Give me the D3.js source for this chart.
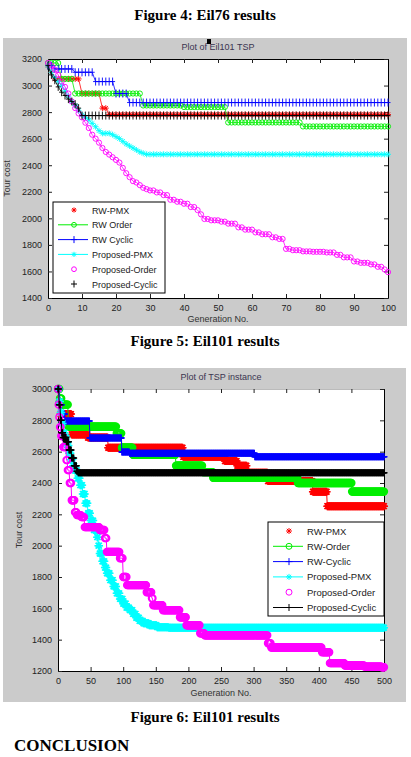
<!DOCTYPE html>
<html>
<head>
<meta charset="utf-8">
<script src="https://cdn.jsdelivr.net/npm/d3@7"></script>
<style>
body{margin:0;background:#fff;}
svg text{font-family:"Liberation Sans",Arial,sans-serif;}
.cap{font-family:"Liberation Serif","Times New Roman",serif;font-weight:bold;}
</style>
</head>
<body>
<svg id="page" width="411" height="757"></svg>
<script>
// best tour cost per generation, run-length coded: [generation, cost]
// the cost stays at that value until the next entry

// ---- Figure 4 chart (100 generations) ----
const names1 = ['RW-PMX', 'RW Order', 'RW Cyclic', 'Proposed-PMX', 'Proposed-Order', 'Proposed-Cyclic'];
const rwPmx1 = [[0,3150],[1,3100],[2,3050],[10,2940],[16,2830],[18,2782]];
const rwOrder1 = [[0,3170],[4,3050],[8,2940],[28,2850],[40,2838],[53,2722],[75,2692]];
const rwCyclic1 = [[0,3150],[2,3125],[8,3100],[14,3030],[20,2940],[24,2872]];
const propPmx1 = [[0,3150],[1,3100],[2,3060],[3,3030],[4,3000],[5,2960],[6,2920],[7,2880],[8,2850],[9,2810],
    [10,2780],[11,2760],[12,2740],[13,2715],[14,2690],[15,2660],[16,2640],[19,2630],[20,2615],[21,2600],
    [22,2580],[23,2560],[24,2545],[25,2530],[26,2515],[27,2500],[28,2490],[29,2482]];
const propOrder1 = [[0,3170],[1,3150],[2,3120],[3,3080],[4,3030],[5,2990],[6,2940],[7,2880],[8,2830],[9,2790],
    [10,2760],[11,2720],[12,2680],[13,2630],[14,2600],[15,2570],[16,2530],[17,2500],[18,2480],[19,2460],
    [20,2440],[21,2420],[22,2380],[23,2340],[24,2310],[25,2280],[26,2270],[27,2250],[28,2230],[29,2220],
    [30,2210],[32,2195],[34,2175],[36,2140],[38,2125],[40,2110],[42,2085],[44,2062],[45,2030],[46,1995],
    [48,1985],[51,1975],[53,1960],[56,1932],[58,1915],[61,1894],[63,1880],[66,1857],[68,1845],[70,1770],
    [72,1760],[75,1751],[78,1748],[82,1743],[85,1725],[87,1706],[90,1675],[92,1665],[95,1653],[97,1635],
    [99,1615],[100,1595]];
const propCyclic1 = [[0,3150],[1,3080],[2,3040],[3,2990],[4,2950],[5,2925],[6,2898],[7,2880],[8,2860],[9,2830],[10,2774]];
const xTicks1 = [0,10,20,30,40,50,60,70,80,90,100];
const yTicks1 = [1400,1600,1800,2000,2200,2400,2600,2800,3000,3200];

// ---- Figure 5 chart (500 generations) ----
const names2 = ['RW-PMX', 'RW-Order', 'RW-Cyclic', 'Proposed-PMX', 'Proposed-Order', 'Proposed-Cyclic'];
const rwPmx2 = [[0,3000],[2,2920],[4,2840],[21,2710],[46,2690],[77,2625],[192,2567],[256,2540],[275,2510],
    [290,2465],[322,2412],[391,2344],[413,2252]];
const rwOrder2 = [[0,3000],[3,2940],[6,2900],[16,2760],[90,2717],[98,2625],[115,2580],[181,2510],[222,2470],
    [238,2433],[368,2400],[451,2345]];
const rwCyclic2 = [[0,3000],[3,2900],[6,2840],[11,2795],[49,2688],[98,2598],[110,2590],[302,2567]];
const propPmx2 = [[0,3000],[2,2920],[4,2850],[6,2780],[8,2720],[11,2690],[14,2640],[17,2590],[20,2550],
    [23,2510],[26,2480],[30,2430],[34,2386],[38,2330],[42,2270],[46,2207],[50,2160],[55,2100],[60,2054],
    [62,2000],[64,1950],[68,1900],[72,1860],[75,1824],[80,1780],[85,1740],[90,1696],[95,1660],[100,1630],
    [105,1605],[110,1588],[115,1565],[120,1540],[125,1520],[131,1505],[140,1492],[152,1480],[170,1476]];
const propOrder2 = [[0,3000],[1,2900],[2,2820],[3,2757],[5,2700],[8,2629],[13,2546],[15,2482],[18,2400],
    [21,2290],[26,2214],[29,2195],[36,2182],[41,2118],[64,2100],[72,2048],[75,1960],[95,1920],[100,1800],
    [106,1748],[136,1703],[144,1664],[146,1620],[161,1588],[187,1543],[197,1492],[218,1441],[225,1428],
    [322,1377],[327,1350],[405,1320],[417,1250],[440,1235],[470,1228],[497,1224]];
const propCyclic2 = [[0,3000],[2,2900],[4,2800],[6,2720],[8,2690],[13,2663],[17,2610],[21,2560],[25,2510],
    [29,2475],[31,2465]];
const xTicks2 = [0,50,100,150,200,250,300,350,400,450,500];
const yTicks2 = [1200,1400,1600,1800,2000,2200,2400,2600,2800,3000];

const colors = ['#ff0000', '#00ee00', '#0000ff', '#00ffff', '#ff00ff', '#000000'];
const markers = ['star', 'circle', 'plus', 'star', 'circle', 'plus'];

let page = d3.select('#page');

// captions
page.append('text').attr('class', 'cap').attr('x', 205).attr('y', 20)
    .attr('text-anchor', 'middle').attr('font-size', 15).text('Figure 4: Eil76 results');
page.append('text').attr('class', 'cap').attr('x', 205).attr('y', 346)
    .attr('text-anchor', 'middle').attr('font-size', 15).text('Figure 5: Eil101 results');
page.append('text').attr('class', 'cap').attr('x', 205).attr('y', 722)
    .attr('text-anchor', 'middle').attr('font-size', 15).text('Figure 6: Eil101 results');
page.append('text').attr('class', 'cap').attr('x', 14).attr('y', 751)
    .attr('font-size', 17).text('CONCLUSION');

// turn the run list into one value per generation
function expandRuns(runs, maxGen){
    let out = [];
    let k = 0;
    for (let g = 0; g <= maxGen; g++){
        while (k + 1 < runs.length && runs[k + 1][0] <= g) k++;
        out.push({g: g, v: runs[k][1]});
    }
    return out;
}

function markerPath(type, s){
    if (type == 'plus') return `M${-s.h},0H${s.h}M0,${-s.v}V${s.v}`;
    if (type == 'star'){
        let d = s.r * 0.72;
        return `M${-s.r},0H${s.r}M0,${-s.r}V${s.r}M${-d},${-d}L${d},${d}M${-d},${d}L${d},${-d}`;
    }
    return `M${s.c},0A${s.c},${s.c} 0 1 1 ${-s.c},0A${s.c},${s.c} 0 1 1 ${s.c},0`;
}

function drawChart(o){
    let g = page.append('g');

    // grey figure panel
    g.append('rect').attr('x', o.panel[0]).attr('y', o.panel[1])
        .attr('width', o.panel[2]).attr('height', o.panel[3]).attr('fill', '#cbcbcb');

    let xScale = d3.scaleLinear().domain([0, o.maxGen]).range([o.left, o.right]);
    let yScale = d3.scaleLinear().domain(o.yDomain).range([o.bottom, o.top]);

    g.append('rect').attr('x', o.left).attr('y', o.top)
        .attr('width', o.right - o.left).attr('height', o.bottom - o.top).attr('fill', '#fff');

    // axes, ticks pointing inwards like matlab
    let fmt = d3.format('d');
    let axB = g.append('g').attr('transform', `translate(0,${o.bottom})`)
        .call(d3.axisBottom(xScale).tickValues(o.xTicks).tickSize(-4).tickSizeOuter(0).tickPadding(7).tickFormat(fmt));
    let axL = g.append('g').attr('transform', `translate(${o.left},0)`)
        .call(d3.axisLeft(yScale).tickValues(o.yTicks).tickSize(-4).tickSizeOuter(0).tickPadding(6).tickFormat(fmt));
    let axT = g.append('g').attr('transform', `translate(0,${o.top})`)
        .call(d3.axisTop(xScale).tickValues(o.xTicks).tickSize(-4).tickSizeOuter(0).tickFormat(''));
    let axR = g.append('g').attr('transform', `translate(${o.right},0)`)
        .call(d3.axisRight(yScale).tickValues(o.yTicks).tickSize(-4).tickSizeOuter(0).tickFormat(''));
    [axB, axL, axT, axR].forEach(function(ax){
        ax.selectAll('text').attr('font-size', 9).attr('fill', '#222')
            .style('font-family', '"Liberation Sans",Arial,sans-serif');
        ax.selectAll('line').attr('stroke', '#222');
        ax.select('.domain').attr('stroke', '#000');
    });
    if (!o.topLine) axT.select('.domain').attr('stroke', '#bbb');

    // title and axis labels
    g.append('text').attr('x', (o.left + o.right) / 2).attr('y', o.top - 9)
        .attr('text-anchor', 'middle').attr('font-size', 9).attr('fill', '#3a3450').text(o.title);
    g.append('text').attr('x', (o.left + o.right) / 2).attr('y', o.xLabelY)
        .attr('text-anchor', 'middle').attr('font-size', 9).attr('fill', '#333').text('Generation No.');
    g.append('text').attr('transform', `translate(${o.yLabelX},${(o.top + o.bottom) / 2}) rotate(-90)`)
        .attr('text-anchor', 'middle').attr('font-size', 9).attr('fill', '#333').text('Tour cost');

    // series
    let line = d3.line().x(d => xScale(d.g)).y(d => yScale(d.v));
    o.series.forEach(function(runs, i){
        let pts = expandRuns(runs, o.maxGen);
        let sg = g.append('g');
        sg.append('path').datum(pts).attr('d', line)
            .attr('fill', 'none').attr('stroke', colors[i]).attr('stroke-width', o.lineW);
        sg.selectAll('.mk').data(pts).enter().append('path')
            .attr('transform', d => `translate(${xScale(d.g)},${yScale(d.v)})`)
            .attr('d', markerPath(markers[i], o.mk))
            .attr('fill', 'none').attr('stroke', colors[i]).attr('stroke-width', o.mkW);
    });

    // legend
    let lg = g.append('g');
    lg.append('rect').attr('x', o.legend.x).attr('y', o.legend.y)
        .attr('width', o.legend.w).attr('height', o.legend.h)
        .attr('fill', '#fff').attr('stroke', '#000').attr('stroke-width', 1);
    o.names.forEach(function(name, i){
        let ly = o.legend.y + o.legend.first + i * o.legend.step;
        if (o.legend.lines[i]){
            lg.append('line').attr('x1', o.legend.x + 5).attr('x2', o.legend.x + 35)
                .attr('y1', ly).attr('y2', ly).attr('stroke', colors[i]).attr('stroke-width', 1);
        }
        lg.append('path').attr('transform', `translate(${o.legend.x + 21},${ly})`)
            .attr('d', markerPath(markers[i], o.legMk))
            .attr('fill', 'none').attr('stroke', colors[i]).attr('stroke-width', 1);
        lg.append('text').attr('x', o.legend.x + 39).attr('y', ly + 3.5)
            .attr('font-size', o.legend.font).attr('fill', '#222').text(name);
    });
}

drawChart({
    panel: [3, 38, 404, 288],
    left: 48, right: 388, top: 59, bottom: 298,
    maxGen: 100, yDomain: [1400, 3200],
    xTicks: xTicks1, yTicks: yTicks1,
    title: 'Plot of Eil101 TSP', xLabelY: 322, yLabelX: 10, topLine: true,
    series: [rwPmx1, rwOrder1, rwCyclic1, propPmx1, propOrder1, propCyclic1],
    names: names1,
    lineW: 0.8, mkW: 0.9,
    mk: {r: 3, c: 2.6, h: 2.5, v: 4},
    legMk: {r: 2.6, c: 2.4, h: 3, v: 3.5},
    legend: {x: 53, y: 202, w: 112, h: 91, first: 8, step: 14.8, font: 9,
        lines: [false, true, true, true, false, false]}
});

// little cursor mark over the first title
page.append('rect').attr('x', 207).attr('y', 39).attr('width', 4).attr('height', 5).attr('fill', '#000');

drawChart({
    panel: [3, 368, 403, 334],
    left: 58, right: 384, top: 389, bottom: 671,
    maxGen: 500, yDomain: [1200, 3000],
    xTicks: xTicks2, yTicks: yTicks2,
    title: 'Plot of TSP instance', xLabelY: 696, yLabelX: 22, topLine: false,
    series: [rwPmx2, rwOrder2, rwCyclic2, propPmx2, propOrder2, propCyclic2],
    names: names2,
    lineW: 1, mkW: 1.5,
    mk: {r: 4, c: 3.4, h: 3.5, v: 3.5},
    legMk: {r: 3, c: 3, h: 3.5, v: 3.5},
    legend: {x: 268, y: 522, w: 116, h: 94, first: 9, step: 15.3, font: 9.5,
        lines: [false, true, true, true, false, true]}
});
</script>
</body>
</html>
